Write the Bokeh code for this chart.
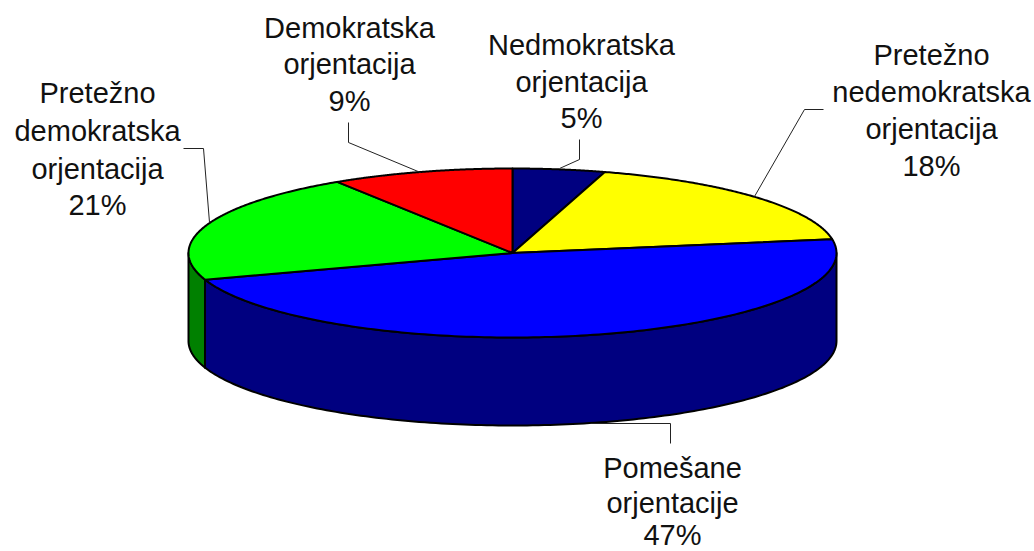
import numpy as np
from bokeh.plotting import figure
from bokeh.models import ColumnDataSource
from bokeh.core.properties import value
from bokeh.embed import file_html
from bokeh.resources import INLINE

# data, clockwise from 12 o'clock
categories = ["Nedmokratska orjentacija", "Pretežno nedemokratska orjentacija",
              "Pomešane orjentacije", "Pretežno demokratska orjentacija",
              "Demokratska orjentacija"]
# slice sizes as read from the drawn wedges; the printed labels are rounded
values = [4.6, 17.8, 47.49, 21.0, 9.1]
percent_labels = ["5%", "18%", "47%", "21%", "9%"]
top_colors = ["#000080", "#FFFF00", "#0000FF", "#00FF00", "#FF0000"]
side_colors = ["#000040", "#808000", "#000080", "#008000", "#800000"]

# label layout: (centre x, [line centre y ...]) on the page
label_lines = [
    ["Nedmokratska", "orjentacija"],
    ["Pretežno", "nedemokratska", "orjentacija"],
    ["Pomešane", "orjentacije"],
    ["Pretežno", "demokratska", "orjentacija"],
    ["Demokratska", "orjentacija"],
]
label_x = [581, 931, 672, 97, 349]
label_y = [[44, 81, 117], [54, 91, 128, 165], [467, 502, 534],
           [92, 130, 168, 204], [27, 63, 100]]

# leader lines
leaders_x = [[579, 579, 559], [823, 804, 754], [670, 670, 590],
             [183, 203, 209], [348, 348, 420]]
leaders_y = [[139, 159, 168], [109, 109, 196], [443, 423, 423],
             [148, 148, 222], [122, 142, 172]]

# pie geometry
cx, cy, rx, ry, depth = 512, 252.5, 324, 84.5, 88

W, H = 1034, 551
p = figure(width=W, height=H, x_range=(0, W), y_range=(H, 0),
           output_backend="svg", toolbar_location=None, min_border=0,
           outline_line_color=None, background_fill_color="white",
           border_fill_color="white")
p.axis.visible = False
p.grid.visible = False


def arc(a, b, dy=0.0):
    t = np.radians(np.linspace(a, b, 160))
    return cx + rx * np.sin(t), cy - ry * np.cos(t) + dy


edges = np.concatenate([[0], np.cumsum(values)]) / sum(values) * 360.0

# side wall: only the near half (90..270 degrees) is visible
sx, sy, sc = [], [], []
for a, b, c in zip(edges[:-1], edges[1:], side_colors):
    lo, hi = max(a, 90), min(b, 270)
    if hi > lo:
        x0, y0 = arc(lo, hi)
        x1, y1 = arc(hi, lo, depth)
        sx.append(np.concatenate([x0, x1]))
        sy.append(np.concatenate([y0, y1]))
        sc.append(c)
p.patches(sx, sy, fill_color=sc, line_color="black", line_width=2, line_join="round")

# top face
tx, ty = [], []
for a, b in zip(edges[:-1], edges[1:]):
    x0, y0 = arc(a, b)
    tx.append(np.concatenate([[cx], x0]))
    ty.append(np.concatenate([[cy], y0]))
p.patches(tx, ty, fill_color=top_colors, line_color="black", line_width=2, line_join="round")

# leaders
p.multi_line(leaders_x, leaders_y, line_color="#222222", line_width=1)

# labels
tx_, ty_, tt_ = [], [], []
for lines, pct, x, ys in zip(label_lines, percent_labels, label_x, label_y):
    for t, y in zip(lines + [pct], ys):
        tx_.append(x)
        ty_.append(y)
        tt_.append(t)
p.text(x="x", y="y", text="t", source=ColumnDataSource(dict(x=tx_, y=ty_, t=tt_)),
       text_font=value("Liberation Sans"), text_font_size="29px",
       text_color="#111111", text_align="center", text_baseline="middle")

open("out.html", "w").write(file_html(p, INLINE))
